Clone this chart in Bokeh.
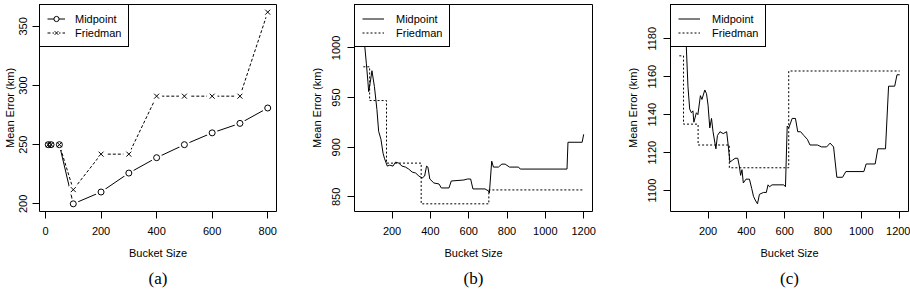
from bokeh.plotting import figure
from bokeh.layouts import row
from bokeh.models import Range1d, FixedTicker, Legend, LegendItem, Title
from bokeh.embed import file_html
from bokeh.resources import INLINE

# ---------------- data ----------------
# (a) coarse bucket sizes
a_bucket = [10, 20, 50, 100, 200, 300, 400, 500, 600, 700, 800]
a_midpoint = [250, 250, 250, 200, 210, 226, 239, 250, 260, 268, 281]
a_friedman = [250, 250, 250, 212, 242, 242, 291, 291, 291, 291, 362]
a_xticks = [0, 200, 400, 600, 800]
a_yticks = [200, 250, 300, 350]

# (b)
b_mid_bucket = [50, 57, 66, 74, 78, 86, 95, 108, 121, 130,
                142, 153, 160, 175, 188, 205, 218, 235, 252, 270,
                287, 305, 323, 340, 357, 370, 380, 387, 397, 418,
                445, 457, 497, 509, 575, 593, 610, 622, 685, 703,
                708, 720, 729, 755, 773, 790, 813, 860, 869, 1113,
                1118, 1192, 1200]
b_mid_error = [1036, 1003, 984, 966, 956, 965, 977, 961, 938, 916,
               908, 894, 889, 881, 882, 881, 885, 884, 881, 880,
               878, 875, 874, 871, 869, 871, 881, 880, 868, 864,
               863, 859, 859, 866, 867, 868, 868, 858, 858, 856,
               854, 886, 880, 880, 883, 883, 880, 880, 878, 878,
               905, 905, 913]
b_fri_bucket = [50, 83, 171, 352, 705, 1200]
b_fri_error = [981, 947, 884, 843, 857, 857]
b_xticks = [200, 400, 600, 800, 1000, 1200]
b_yticks = [850, 900, 950, 1000]

# (c)
c_mid_bucket = [50, 80, 86, 95, 104, 113, 121, 126, 139, 147,
                160, 168, 183, 192, 200, 209, 218, 226, 241, 249,
                262, 279, 297, 305, 314, 328, 341, 355, 363, 370,
                377, 384, 398, 416, 428, 437, 446, 458, 468, 489,
                504, 513, 521, 534, 595, 604, 613, 621, 639, 656,
                668, 683, 700, 718, 732, 771, 792, 819, 837, 855,
                872, 902, 919, 1013, 1025, 1072, 1086, 1126, 1142, 1174,
                1186, 1200]
c_mid_error = [1194, 1186, 1177, 1155, 1143, 1141, 1142, 1136, 1141, 1140,
               1150, 1148, 1153, 1151, 1145, 1133, 1138, 1131, 1122, 1129,
               1131, 1130, 1131, 1124, 1115, 1116, 1117, 1117, 1113, 1108,
               1111, 1104, 1106, 1106, 1101, 1097, 1095, 1093, 1098, 1099,
               1099, 1103, 1102, 1103, 1103, 1102, 1134, 1133, 1138, 1138,
               1131, 1131, 1129, 1127, 1124, 1124, 1123, 1123, 1125, 1123,
               1107, 1107, 1110, 1110, 1114, 1114, 1122, 1122, 1155, 1155,
               1161, 1161]
c_fri_bucket = [50, 72, 148, 311, 621, 1200]
c_fri_error = [1171, 1135, 1124, 1112, 1163, 1163]
c_xticks = [200, 400, 600, 800, 1000, 1200]
c_yticks = [1100, 1120, 1140, 1160, 1180]

FONT = "Liberation Sans"
SERIF = "Liberation Serif"


def r_range(*series):
    vals = [v for s in series for v in s]
    lo, hi = min(vals), max(vals)
    d = (hi - lo) * 0.04
    return Range1d(lo - d, hi + d)


def make_fig(width, left, right, xr, yr, xt, yt, caption, s1, s2):
    p = figure(width=width, height=292, output_backend="svg", toolbar_location=None,
               x_range=xr, y_range=yr, min_border_left=left, min_border_right=right,
               min_border_top=4, min_border_bottom=80,
               background_fill_color="white", border_fill_color="white")
    p.grid.visible = False
    p.outline_line_color = "black"
    p.outline_line_width = 1
    p.outline_line_alpha = 1
    for ax in (p.xaxis[0], p.yaxis[0]):
        ax.axis_line_color = None
        ax.major_tick_out = 7
        ax.major_tick_in = 0
        ax.minor_tick_line_color = None
        ax.major_tick_line_color = "black"
        ax.major_label_text_font = FONT
        ax.major_label_text_font_size = "11px"
        ax.major_label_text_color = "black"
        ax.axis_label_text_font = FONT
        ax.axis_label_text_font_size = "11px"
        ax.axis_label_text_font_style = "normal"
        ax.axis_label_text_color = "black"
    p.xaxis[0].ticker = FixedTicker(ticks=xt)
    p.yaxis[0].ticker = FixedTicker(ticks=yt)
    p.xaxis[0].major_label_standoff = 8
    p.xaxis[0].axis_label_standoff = 9
    p.yaxis[0].major_label_standoff = s1
    p.yaxis[0].axis_label_standoff = s2
    p.yaxis[0].major_label_orientation = "vertical"
    p.xaxis[0].axis_label = "Bucket Size"
    p.yaxis[0].axis_label = "Mean Error (km)"
    p.add_layout(Title(text=caption, align="center", text_font=SERIF,
                       text_font_size="17px", text_font_style="normal",
                       text_color="black", standoff=10), "below")
    return p


def style_legend(p, items, pad, gw, ls):
    lg = Legend(items=items, location="top_left", margin=0, padding=pad,
                spacing=1, glyph_width=gw, glyph_height=13, label_height=13,
                label_standoff=ls, border_line_color="black", border_line_width=1,
                border_line_alpha=1, background_fill_color="white",
                background_fill_alpha=1, label_text_font=FONT,
                label_text_font_size="11px", label_text_color="black")
    p.add_layout(lg)


# ---------------- (a) ----------------
pa = make_fig(306, 38, 30, r_range(a_bucket), r_range(a_midpoint, a_friedman),
              a_xticks, a_yticks, "(a)", 5, 1)
lm = pa.line(a_bucket, a_midpoint, line_color="black", line_width=1)
lf = pa.line(a_bucket, a_friedman, line_color="black", line_width=1, line_dash="3 2")
gm = pa.scatter(a_bucket, a_midpoint, marker="circle", size=11, fill_color="white", line_color=None)
gf = pa.scatter(a_bucket, a_friedman, marker="circle", size=11, fill_color="white", line_color=None)
mm = pa.scatter(a_bucket, a_midpoint, marker="circle", size=6, fill_color=None, line_color="black", line_width=1)
mf = pa.scatter(a_bucket, a_friedman, marker="x", size=7, line_color="black", line_width=1)
style_legend(pa, [LegendItem(label="Midpoint", renderers=[lm, gm, mm]),
                  LegendItem(label="Friedman", renderers=[lf, gf, mf])], 7, 18, 10)

# ---------------- (b) ----------------
pb = make_fig(316, 48, 30, r_range(b_mid_bucket, b_fri_bucket), r_range(b_mid_error, b_fri_error),
              b_xticks, b_yticks, "(b)", 7, 7)
bm = pb.line(b_mid_bucket, b_mid_error, line_color="black", line_width=1)
bf = pb.step(b_fri_bucket, b_fri_error, mode="after", line_color="black", line_width=1, line_dash="2 2")
style_legend(pb, [LegendItem(label="Midpoint", renderers=[bm]),
                  LegendItem(label="Friedman", renderers=[bf])], 7, 22, 12)

# ---------------- (c) ----------------
pc = make_fig(288, 48, 2, r_range(c_mid_bucket, c_fri_bucket), r_range(c_mid_error, c_fri_error),
              c_xticks, c_yticks, "(c)", 7, 7)
cm = pc.line(c_mid_bucket, c_mid_error, line_color="black", line_width=1)
cf = pc.step(c_fri_bucket, c_fri_error, mode="after", line_color="black", line_width=1, line_dash="2 2")
style_legend(pc, [LegendItem(label="Midpoint", renderers=[cm]),
                  LegendItem(label="Friedman", renderers=[cf])], 7, 22, 12)

layout = row(pa, pb, pc, spacing=0)
open("out.html", "w").write(file_html(layout, INLINE))
